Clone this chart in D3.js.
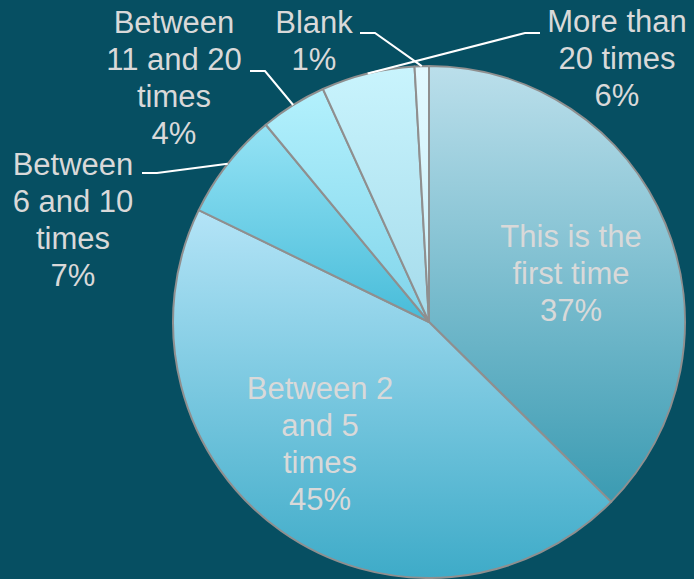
<!DOCTYPE html>
<html>
<head>
<meta charset="utf-8">
<script src="https://cdn.jsdelivr.net/npm/d3@7"></script>
<style>
  html, body { margin: 0; padding: 0; background: #064f62; }
  svg { display: block; }
</style>
</head>
<body>
<script>
// chart data (shares; labels show rounded %)
let categories = ["This is the first time", "Between 2 and 5 times", "Between 6 and 10 times",
                  "Between 11 and 20 times", "More than 20 times", "Blank"];
let values = [37.4, 44.8, 6.8, 4.2, 5.9, 0.9];
let labelLines = [
  ["This is the", "first time", "37%"],
  ["Between 2", "and 5", "times", "45%"],
  ["Between", "6 and 10", "times", "7%"],
  ["Between", "11 and 20", "times", "4%"],
  ["More than", "20 times", "6%"],
  ["Blank", "1%"]
];

let width = 694;
let height = 579;
let cx = 429, cy = 322, radius = 256;

// gradient stops per slice (top, bottom)
let sliceColors = [
  ["#bbdfeb", "#3b9bb2"],
  ["#b4e4f7", "#3eabc8"],
  ["#95e3f5", "#48bcd9"],
  ["#b3f1fd", "#80d4ea"],
  ["#c9f4fd", "#a5dbeb"],
  ["#e2f9ff", "#c8eef8"]
];

// label placement: text centre x, first baseline y, and leader start (null = inside label)
let labelLayout = [
  { x: 571, y: 247, leader: null },
  { x: 320, y: 399, leader: null },
  { x: 73,  y: 175, leader: [[142, 173], [157, 173]] },
  { x: 174, y: 33,  leader: [[250, 71], [265, 71]] },
  { x: 617, y: 32,  leader: [[540, 33], [525, 33]] },
  { x: 314, y: 33,  leader: [[360, 33], [375, 33]] }
];
let lineHeight = 37;

let svg = d3.select("body").append("svg")
            .attr("width", width)
            .attr("height", height);

svg.append("rect")
   .attr("width", width)
   .attr("height", height)
   .attr("fill", "#064f62");

let defs = svg.append("defs");
sliceColors.forEach(function(c, i) {
  let g = defs.append("linearGradient")
              .attr("id", "grad" + i)
              .attr("x1", 0).attr("y1", 0)
              .attr("x2", 0).attr("y2", 1);
  g.append("stop").attr("offset", "0%").attr("stop-color", c[0]);
  g.append("stop").attr("offset", "100%").attr("stop-color", c[1]);
});

let pie = d3.pie().sort(null).value(function(d) { return d; });
let arcs = pie(values);
let arc = d3.arc().innerRadius(0).outerRadius(radius);

let g = svg.append("g").attr("transform", "translate(" + cx + "," + cy + ")");

g.selectAll("path.slice").data(arcs).enter().append("path")
 .attr("class", "slice")
 .attr("d", arc)
 .attr("fill", function(d, i) { return "url(#grad" + i + ")"; })
 .attr("stroke", "#8f8f8f")
 .attr("stroke-width", 2)
 .attr("stroke-linejoin", "round");

// leader lines
arcs.forEach(function(d, i) {
  let lay = labelLayout[i];
  if (!lay.leader) return;
  let mid = (d.startAngle + d.endAngle) / 2;
  let ex = cx + radius * Math.sin(mid);
  let ey = cy - radius * Math.cos(mid);
  let pts = lay.leader.concat([[ex, ey]]);
  svg.append("path")
     .attr("d", d3.line()(pts))
     .attr("fill", "none")
     .attr("stroke", "#ffffff")
     .attr("stroke-width", 2);
});

// labels
labelLines.forEach(function(lines, i) {
  let lay = labelLayout[i];
  let t = svg.append("text")
             .attr("text-anchor", "middle")
             .attr("font-family", "'Liberation Sans', Arial, sans-serif")
             .attr("font-size", 31)
             .attr("fill", "#d9d9d9");
  lines.forEach(function(s, k) {
    t.append("tspan")
     .attr("x", lay.x)
     .attr("y", lay.y + k * lineHeight)
     .text(s);
  });
});
</script>
</body>
</html>
